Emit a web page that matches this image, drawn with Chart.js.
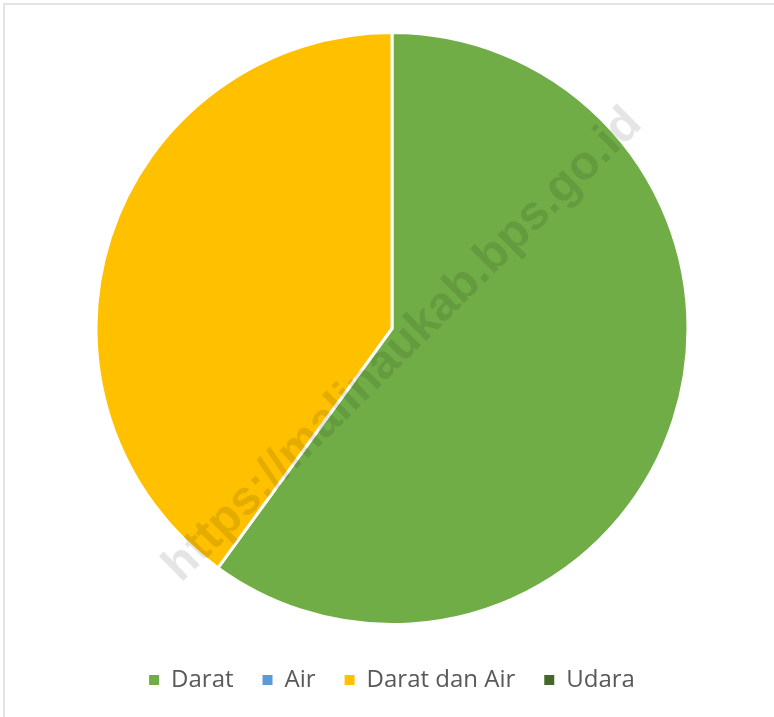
<!DOCTYPE html>
<html>
<head>
<meta charset="utf-8">
<script src="https://cdn.jsdelivr.net/npm/chart.js@4/dist/chart.umd.min.js"></script>
<style>
  html, body { margin: 0; padding: 0; background: #fff; }
  #wrap { position: relative; width: 774px; height: 717px; overflow: hidden; }
  #frame { position: absolute; left: 3px; top: 3px; width: 800px; height: 800px;
           border-left: 2px solid #e3e3e3; border-top: 2px solid #e3e3e3; box-sizing: border-box; }
  canvas { position: absolute; left: 0; top: 0; }
</style>
</head>
<body>
<div id="wrap">
  <div id="frame"></div>
  <canvas id="pieChart" width="774" height="717"></canvas>
</div>
<script>
/* =========================================================
   DATA
========================================================= */
const categories = ["Darat", "Air", "Darat dan Air", "Udara"];
const shares = [60, 0, 40, 0];
const sliceColors = ["#70AD47", "#5B9BD5", "#FFC000", "#43682B"];
const watermark = "https://malinaukab.bps.go.id";

/* =========================================================
   WATERMARK PLUGIN
========================================================= */
const watermarkPlugin = {
  id: "watermark",
  afterDraw(chart) {
    const ctx = chart.ctx;
    ctx.save();
    ctx.translate(403, 345);
    ctx.rotate(-44.7 * Math.PI / 180);
    ctx.font = "bold 48px 'Liberation Sans', Arial, sans-serif";
    ctx.fillStyle = "rgba(0,0,0,0.1)";
    ctx.textAlign = "center";
    ctx.textBaseline = "middle";
    ctx.fillText(watermark, 0, 0);
    ctx.restore();
  }
};

/* =========================================================
   CHART
========================================================= */
const defaultLabels = Chart.overrides.pie.plugins.legend.labels.generateLabels;

new Chart(document.getElementById("pieChart"), {
  type: "pie",
  data: {
    labels: categories,
    datasets: [{
      data: shares,
      backgroundColor: sliceColors,
      borderColor: "#ffffff",
      borderWidth: 3
    }]
  },
  options: {
    responsive: false,
    animation: false,
    radius: 296,
    layout: { padding: { top: 18, left: 10, right: 0, bottom: 15 } },
    plugins: {
      tooltip: { enabled: false },
      legend: {
        position: "bottom",
        labels: {
          boxWidth: 10,
          boxHeight: 10,
          padding: 29,
          color: "#595959",
          font: { family: "'Open Sans', sans-serif", size: 24 },
          generateLabels(chart) {
            return defaultLabels(chart).map(l => ({ ...l, lineWidth: 0, strokeStyle: "transparent" }));
          }
        }
      }
    }
  },
  plugins: [watermarkPlugin]
});
</script>
</body>
</html>
